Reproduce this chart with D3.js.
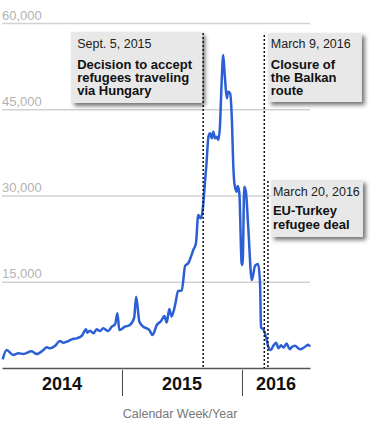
<!DOCTYPE html>
<html>
<head>
<meta charset="utf-8">
<script src="https://cdn.jsdelivr.net/npm/d3@7/dist/d3.min.js"></script>
<style>
body { margin: 0; background: #fff; }
svg { display: block; font-family: "Liberation Sans", Arial, sans-serif; }
</style>
</head>
<body>
<div id="chart"></div>
<script>
// Weekly arrivals
var weeks = [
  "2014-01-03","2014-01-15","2014-02-04","2014-02-20","2014-03-07","2014-04-01","2014-04-17","2014-05-07",
  "2014-05-17","2014-05-27","2014-06-11","2014-06-26","2014-07-06","2014-07-17","2014-08-01","2014-08-16",
  "2014-08-31","2014-09-14","2014-09-17","2014-09-26","2014-10-06","2014-10-16","2014-10-26","2014-11-05",
  "2014-11-20","2014-12-01","2014-12-11","2014-12-18","2014-12-24",
  "2015-01-10","2015-01-25","2015-02-07","2015-02-13","2015-02-23","2015-03-07","2015-03-17","2015-03-25",
  "2015-04-04","2015-04-17","2015-04-30","2015-05-10","2015-05-17","2015-05-25","2015-06-01","2015-06-11",
  "2015-06-21","2015-07-02","2015-07-12","2015-07-22","2015-08-06","2015-08-14","2015-08-21","2015-08-29",
  "2015-09-04","2015-09-11","2015-09-15","2015-09-21","2015-09-26","2015-10-01","2015-10-06","2015-10-11",
  "2015-10-16","2015-10-21","2015-10-26","2015-10-31","2015-11-05","2015-11-10","2015-11-16","2015-11-20",
  "2015-11-26","2015-12-01","2015-12-06","2015-12-09","2015-12-16","2015-12-19","2015-12-24","2015-12-31",
  "2016-01-03","2016-01-08","2016-01-13","2016-01-20","2016-01-31","2016-02-10","2016-02-19","2016-02-25",
  "2016-02-28","2016-03-06","2016-03-14","2016-03-21","2016-03-29","2016-04-05","2016-04-14","2016-04-21",
  "2016-04-29","2016-05-06","2016-05-16","2016-05-25","2016-05-31","2016-06-10","2016-06-26","2016-07-11",
  "2016-07-21","2016-07-26"
];
var arrivals = [
  1500, 3130, 2260, 2560, 2430, 2900, 2430, 3130,
  3600, 3430, 3830, 4700, 4400, 4570, 4990, 5160,
  5560, 6730, 6140, 6490, 6030, 6730, 6430, 6900,
  6430, 7180, 7600, 9510, 6610,
  7180, 7480, 8700, 12400, 8050, 7180, 6900, 6610,
  5740, 7480, 8170, 9040, 7910, 10260, 8960, 10780,
  13390, 13510, 17740, 18260, 20520, 21690, 26610, 26030,
  27770, 32690, 35480, 40220, 40810, 39940, 41090, 39940,
  40220, 39650, 41960, 49510, 54430, 50660, 46900, 48050,
  47770, 43700, 34730, 32120, 30660, 31650, 30480, 18210,
  17910, 31530, 30660, 24570, 15300, 17820, 18090, 14780,
  7040, 6730, 5440, 3700, 3130, 3830, 4400, 3430,
  3950, 3560, 4240, 3270, 3600, 3860, 3250, 3700,
  4050, 3700
];

var yTicks = [15000, 30000, 45000, 60000];
var years = ["2014", "2015", "2016"];
var eventDates = ["2015-09-05", "2016-03-09", "2016-03-20"];
var eventLabels = ["Sept. 5, 2015", "March 9, 2016", "March 20, 2016"];
var eventTitles = [
  ["Decision to accept", "refugees traveling", "via Hungary"],
  ["Closure of", "the Balkan", "route"],
  ["EU-Turkey", "refugee deal"]
];
var xTitle = "Calendar Week/Year";

var svgWidth = 378;
var svgHeight = 430;
var plotLeft = 2, plotRight = 310, plotTop = 23, plotBottom = 368;

var parse = d3.timeParse("%Y-%m-%d");
var data = weeks.map(function(w, i) { return { date: parse(w), value: arrivals[i] }; });

var svg = d3.select("#chart").append("svg")
  .attr("width", svgWidth)
  .attr("height", svgHeight);

// drop shadow for the annotation boxes
var filter = svg.append("defs").append("filter")
  .attr("id", "shadow")
  .attr("x", "-20%").attr("y", "-20%")
  .attr("width", "140%").attr("height", "150%");
filter.append("feDropShadow")
  .attr("dx", 3).attr("dy", 3)
  .attr("stdDeviation", 2)
  .attr("flood-color", "#000")
  .attr("flood-opacity", 0.55);

var x = d3.scaleTime()
  .domain([parse("2014-01-01"), parse("2016-07-26")])
  .range([plotLeft, plotRight]);

var y = d3.scaleLinear()
  .domain([0, 60000])
  .range([plotBottom, plotTop]);

// gridlines + y labels
var yAxis = svg.append("g")
  .attr("transform", `translate(${plotLeft}, 0)`)
  .call(d3.axisLeft(y).tickValues(yTicks).tickSize(-(plotRight - plotLeft)).tickFormat(d3.format(",")));
yAxis.select(".domain").remove();
yAxis.selectAll(".tick line")
  .attr("stroke", "#d2d2d2")
  .attr("stroke-width", 1.5);
yAxis.selectAll(".tick text")
  .attr("x", 0)
  .attr("dy", -4)
  .attr("text-anchor", "start")
  .attr("fill", "#b3b3b3")
  .attr("font-size", 13);

// x axis with year separators
var yearStarts = years.map(function(yr) { return parse(yr + "-01-01"); });
var xAxis = svg.append("g")
  .attr("transform", `translate(0, ${plotBottom})`)
  .call(d3.axisBottom(x).tickValues(yearStarts.slice(1)).tickSize(28).tickSizeOuter(0).tickFormat(""));
xAxis.select(".domain")
  .attr("stroke", "#555")
  .attr("stroke-width", 1.5);
xAxis.selectAll(".tick line")
  .attr("stroke", "#444")
  .attr("y1", 2);

svg.selectAll(".year-label")
  .data(years)
  .enter()
  .append("text")
  .attr("class", "year-label")
  .attr("x", function(d, i) {
    var a = Math.max(x(yearStarts[i]), plotLeft);
    var b = i < years.length - 1 ? x(yearStarts[i + 1]) : plotRight;
    return (a + b) / 2;
  })
  .attr("y", 390)
  .attr("text-anchor", "middle")
  .attr("font-size", 18)
  .attr("font-weight", "bold")
  .attr("fill", "#111")
  .text(function(d) { return d; });

svg.append("text")
  .attr("x", 180)
  .attr("y", 418)
  .attr("text-anchor", "middle")
  .attr("font-size", 12.5)
  .attr("fill", "#777")
  .text(xTitle);

// data line
var line = d3.line()
  .x(function(d) { return x(d.date); })
  .y(function(d) { return y(d.value); })
  .curve(d3.curveMonotoneX);

svg.append("path")
  .datum(data)
  .attr("fill", "none")
  .attr("stroke", "#2c5fd6")
  .attr("stroke-width", 2.5)
  .attr("stroke-linejoin", "round")
  .attr("d", line);

// annotation boxes
var boxes = [
  { dx: -1, anchor: "end", top: 32, w: 131, h: 71, lineTop: 33, pad: 6, dateY: 16, titleY: 37, lh: 13 },
  { dx: 3.5, anchor: "start", top: 33, w: 94, h: 69, lineTop: 35, pad: 3, dateY: 15, titleY: 36, lh: 13 },
  { dx: 3, anchor: "start", top: 180, w: 92, h: 57, lineTop: 181, pad: 2, dateY: 16, titleY: 35, lh: 14 }
];

eventDates.forEach(function(dt, i) {
  var b = boxes[i];
  var ex = x(parse(dt));
  var bx = b.anchor === "end" ? ex + b.dx - b.w : ex + b.dx;
  var g = svg.append("g");
  g.append("rect")
    .attr("x", bx)
    .attr("y", b.top)
    .attr("width", b.w)
    .attr("height", b.h)
    .attr("fill", "#e8e8e8")
    .attr("filter", "url(#shadow)");
  g.append("text")
    .attr("x", bx + b.pad)
    .attr("y", b.top + b.dateY)
    .attr("font-size", 12.5)
    .attr("fill", "#222")
    .text(eventLabels[i]);
  eventTitles[i].forEach(function(t, j) {
    g.append("text")
      .attr("x", bx + b.pad)
      .attr("y", b.top + b.titleY + j * b.lh)
      .attr("font-size", 13)
      .attr("font-weight", "bold")
      .attr("fill", "#111")
      .text(t);
  });
});

// dashed event lines
svg.selectAll(".event-line")
  .data(eventDates)
  .enter()
  .append("line")
  .attr("class", "event-line")
  .attr("x1", function(d) { return x(parse(d)); })
  .attr("x2", function(d) { return x(parse(d)); })
  .attr("y1", function(d, i) { return boxes[i].lineTop; })
  .attr("y2", plotBottom)
  .attr("stroke", "#111")
  .attr("stroke-width", 1.5)
  .attr("stroke-dasharray", "2,2");
</script>
</body>
</html>
